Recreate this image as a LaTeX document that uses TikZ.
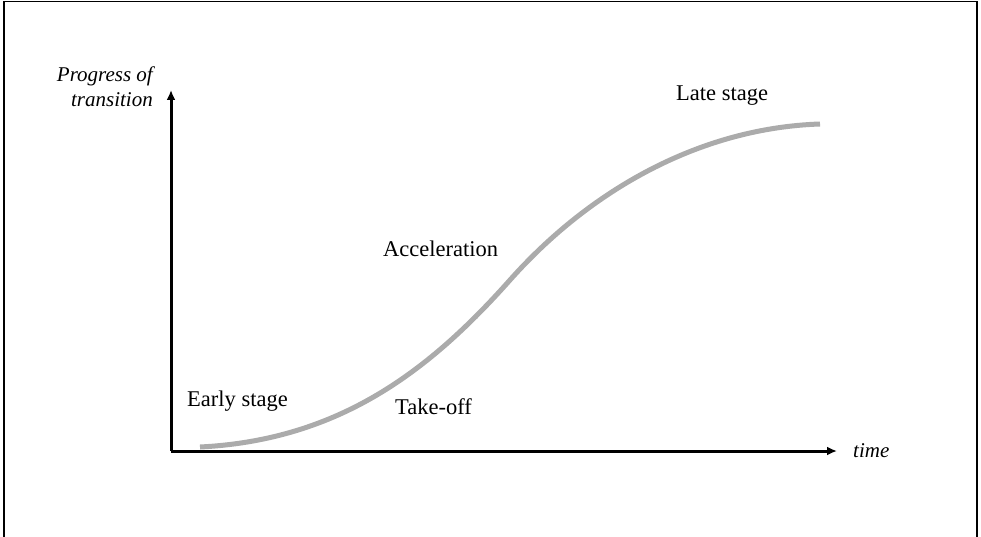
\documentclass[tikz,border=0pt]{standalone}
\usepackage{fontspec}
\setmainfont{Liberation Serif}
\usetikzlibrary{arrows.meta}
\tikzset{
  stagelabel/.style={anchor=base west, inner sep=0pt, font=\fontsize{22.5}{26}\selectfont},
  axislabel/.style={inner sep=0pt, font=\fontsize{21}{25}\selectfont\itshape},
  axisline/.style={line width=3pt, -{Latex[length=10pt,width=9pt]}},
}
\begin{document}
\begin{tikzpicture}[x=1pt,y=-1pt]
\useasboundingbox (0,0) rectangle (981,537);
% frame, open at the bottom
\draw[line width=1.6pt] (4,537) -- (4,1.5) -- (977,1.5) -- (977,537);
% axes
\coordinate (o) at (171,451);
\coordinate (ytip) at (171,90);
\coordinate (xtip) at (837,451);
\draw[axisline] (o) -- (ytip);
\draw[axisline] (o) -- (xtip);
\node[axislabel, anchor=base east, align=right] (ylab) at (153,107) {Progress of\\transition};
\node[axislabel, anchor=base west] (xlab) at (853,457) {time};
% S-curve
\coordinate (start) at (200,447);
\coordinate (mid) at (510,280);
\coordinate (end) at (820,124);
\draw[line width=5pt, color=black!33] (start) .. controls (340,440) and (430,370) .. (mid)
  .. controls (590,190) and (700,128) .. (end);
% stages
\node[stagelabel] (early) at (187,406) {Early stage};
\node[stagelabel] (takeoff) at (395,414) {Take-off};
\node[stagelabel] (accel) at (383,256) {Acceleration};
\node[stagelabel] (late) at (676,101) {Late stage};
\end{tikzpicture}
\end{document}
